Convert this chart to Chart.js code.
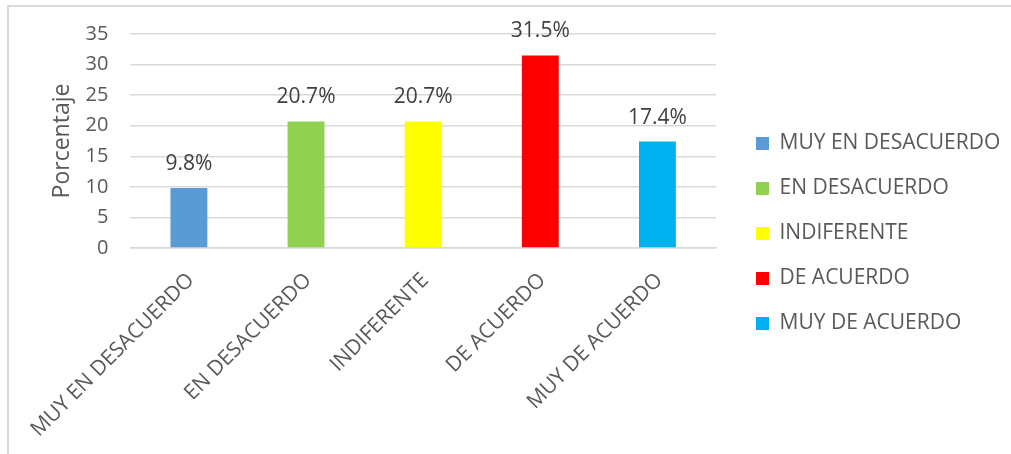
<!DOCTYPE html>
<html>
<head>
<meta charset="utf-8">
<script src="https://cdn.jsdelivr.net/npm/chart.js@4/dist/chart.umd.min.js"></script>
<style>
  html, body { margin: 0; padding: 0; background: #fff; overflow: hidden; width: 1011px; height: 454px; }
  #wrap { position: relative; width: 1011px; height: 454px; }
  #frame { position: absolute; left: 7px; top: 5px; width: 1100px; height: 500px; border: 2px solid #D9D9D9; box-sizing: border-box; }
  canvas { position: absolute; left: 0; top: 0; }
</style>
</head>
<body>
<div id="wrap">
  <div id="frame"></div>
  <canvas id="chart" width="1011" height="454"></canvas>
</div>
<script>
// Survey answers and their share of responses (%)
const categories = ['MUY EN DESACUERDO', 'EN DESACUERDO', 'INDIFERENTE', 'DE ACUERDO', 'MUY DE ACUERDO'];
const percentages = [9.8, 20.7, 20.7, 31.5, 17.4];
const barColors = ['#5B9BD5', '#92D050', '#FFFF00', '#FF0000', '#00B0F0'];
const yAxisTitle = 'Porcentaje';
const yMin = 0;
const yMax = 35;
const yStep = 5;

const FONT = "'Open Sans', sans-serif";
const TEXT_GREY = '#595959';
const GRID_GREY = '#D9D9D9';

// Percentage label above every bar, placed from the bar element itself
const valueLabels = {
  id: 'valueLabels',
  afterDatasetsDraw(chart) {
    const { ctx } = chart;
    const meta = chart.getDatasetMeta(0);
    ctx.save();
    ctx.font = '21px ' + FONT;
    ctx.fillStyle = '#404040';
    ctx.textAlign = 'center';
    ctx.textBaseline = 'middle';
    meta.data.forEach((bar, i) => {
      ctx.fillText(percentages[i].toFixed(1) + '%', bar.x, bar.y - 24);
    });
    ctx.restore();
  }
};

// Keep the legend column at a fixed width
const legendWidth = {
  id: 'legendWidth',
  beforeUpdate(chart) {
    const lg = chart.legend;
    if (lg && !lg.__fixedWidth) {
      const fit = lg.fit;
      lg.fit = function () { fit.call(this); this.width = 279; };
      lg.__fixedWidth = true;
    }
  }
};

new Chart(document.getElementById('chart'), {
  type: 'bar',
  data: {
    labels: categories,
    datasets: [{
      data: percentages,
      backgroundColor: barColors,
      borderWidth: 0,
      categoryPercentage: 1,
      barPercentage: 0.315
    }]
  },
  options: {
    responsive: false,
    devicePixelRatio: 1,
    animation: false,
    layout: { padding: { top: 34, bottom: 0, left: 0, right: 0 } },
    plugins: {
      tooltip: { enabled: false },
      legend: {
        position: 'right',
        align: 'start',
        // empty title used only as top spacing for the legend column
        title: { display: true, text: '', font: { size: 10 }, padding: { top: 63, bottom: 0 } },
        labels: {
          boxWidth: 13,
          boxHeight: 13,
          padding: 24,
          color: TEXT_GREY,
          font: { family: FONT, size: 21 },
          generateLabels(chart) {
            const ds = chart.data.datasets[0];
            return chart.data.labels.map((label, i) => ({
              text: label,
              fillStyle: ds.backgroundColor[i],
              strokeStyle: ds.backgroundColor[i],
              lineWidth: 0,
              hidden: false,
              index: i,
              fontColor: TEXT_GREY
            }));
          }
        }
      }
    },
    scales: {
      x: {
        grid: { display: false, drawTicks: false },
        border: { display: true, color: GRID_GREY, width: 1.5 },
        ticks: {
          autoSkip: false,
          maxRotation: 45,
          minRotation: 45,
          padding: 20,
          labelOffset: 2,
          color: TEXT_GREY,
          font: { family: FONT, size: 21 }
        },
        afterFit(scale) { scale.height = 206; }
      },
      y: {
        min: yMin,
        max: yMax,
        ticks: {
          stepSize: yStep,
          padding: 22,
          color: TEXT_GREY,
          font: { family: FONT, size: 20 }
        },
        grid: { color: GRID_GREY, lineWidth: 1.5, drawTicks: false },
        border: { display: false },
        title: {
          display: true,
          text: yAxisTitle,
          color: TEXT_GREY,
          font: { family: FONT, size: 23 },
          padding: { top: 46, bottom: 0 }
        },
        afterFit(scale) { scale.width = 128; }
      },
      gap: {
        type: 'linear',
        position: 'right',
        display: true,
        grid: { display: false, drawTicks: false },
        border: { display: false },
        ticks: { display: false },
        afterFit(scale) { scale.width = 16; }
      }
    }
  },
  plugins: [valueLabels, legendWidth]
});
</script>
</body>
</html>
